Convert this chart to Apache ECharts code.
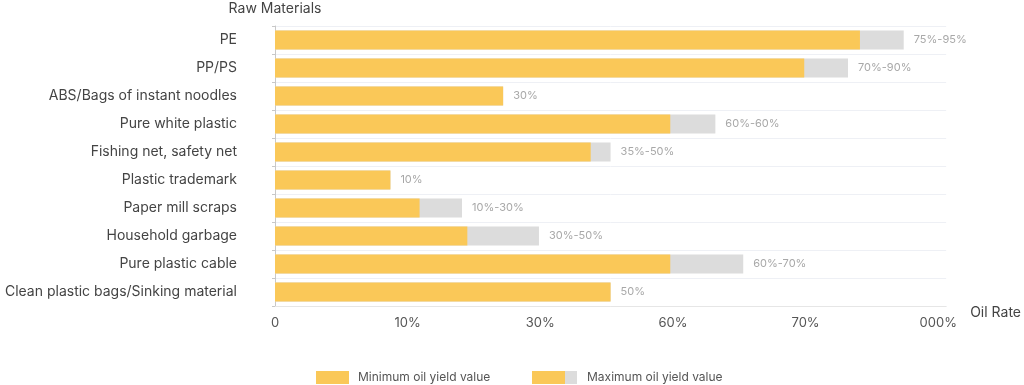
<!DOCTYPE html>
<html>
<head>
<meta charset="utf-8">
<script src="https://cdn.jsdelivr.net/npm/echarts@6/dist/echarts.min.js"></script>
<style>
  html, body { margin: 0; padding: 0; background: #fff; }
  #chart { width: 1024px; height: 385px; }
</style>
</head>
<body>
<div id="chart"></div>
<script>
// Categories (top to bottom)
const categories = [
  'PE',
  'PP/PS',
  'ABS/Bags of instant noodles',
  'Pure white plastic',
  'Fishing net, safety net',
  'Plastic trademark',
  'Paper mill scraps',
  'Household garbage',
  'Pure plastic cable',
  'Clean plastic bags/Sinking material'
];
// Bar lengths, in axis units (tick step = 100)
const minValues = [441, 399, 172, 298, 238, 87, 109, 145, 298, 253];
const maxValues = [474, 432, 172, 332, 253, 87, 141, 199, 353, 253];
// Text shown at the end of each bar
const rangeLabels = ['75%-95%', '70%-90%', '30%', '60%-60%', '35%-50%', '10%', '10%-30%', '30%-50%', '60%-70%', '50%'];
// X axis tick labels (as printed in the reference)
const xTickLabels = ['0', '10%', '30%', '60%', '70%', '000%'];

const YELLOW = '#fac858';
const GREY = '#dcdcdc';
const FONT = 'Inter';

const chart = echarts.init(document.getElementById('chart'));
chart.setOption({
  animation: false,
  textStyle: { fontFamily: FONT },
  grid: { left: 275, right: 74, top: 26, bottom: 79, containLabel: false },
  legend: [
    {
      data: ['Minimum oil yield value'],
      left: 316, top: 371, padding: 0,
      icon: 'rect', itemWidth: 33, itemHeight: 13,
      textStyle: { color: '#555', fontSize: 12, fontFamily: FONT, padding: [0, 0, 0, 4] }
    },
    {
      data: [{
        name: 'Maximum oil yield value',
        itemStyle: {
          color: new echarts.graphic.LinearGradient(0, 0, 1, 0, [
            { offset: 0, color: YELLOW },
            { offset: 0.73, color: YELLOW },
            { offset: 0.73, color: GREY },
            { offset: 1, color: GREY }
          ])
        }
      }],
      left: 532, top: 371, padding: 0,
      icon: 'rect', itemWidth: 45, itemHeight: 13,
      textStyle: { color: '#555', fontSize: 12, fontFamily: FONT, padding: [0, 0, 0, 5] }
    }
  ],
  xAxis: {
    type: 'value',
    min: 0, max: 506, interval: 100,
    name: 'Oil Rate',
    nameLocation: 'end',
    nameGap: 24,
    nameTextStyle: { color: '#444', fontSize: 14, fontFamily: FONT, verticalAlign: 'top', padding: [0, 0, 0, 0] },
    axisLine: { show: true, lineStyle: { color: '#e6e6e6' } },
    axisTick: { show: false },
    splitLine: { show: false },
    axisLabel: {
      color: '#555', fontSize: 13, fontFamily: FONT, margin: 11,
      formatter: function (v) {
        const i = Math.round(v / 100);
        return (Math.abs(v - i * 100) < 1e-6 && i < xTickLabels.length) ? xTickLabels[i] : '';
      }
    }
  },
  yAxis: {
    type: 'category',
    data: categories,
    inverse: true,
    name: 'Raw Materials',
    nameLocation: 'start',
    nameGap: 10,
    nameTextStyle: { color: '#444', fontSize: 14, fontFamily: FONT, align: 'center' },
    axisLine: { show: true, lineStyle: { color: '#c8c8c8' } },
    axisTick: { show: true, length: 3, lineStyle: { color: '#c8c8c8' } },
    splitLine: { show: true, lineStyle: { color: '#eef0f5' } },
    axisLabel: { color: '#444', fontSize: 14, fontFamily: FONT, margin: 38 }
  },
  series: [
    {
      name: 'Maximum oil yield value',
      type: 'bar',
      data: maxValues,
      barWidth: 19,
      barGap: '-100%',
      itemStyle: { color: GREY },
      label: {
        show: true, position: 'right', distance: 10,
        color: '#a8a8a8', fontSize: 11, fontFamily: FONT,
        formatter: function (p) { return rangeLabels[p.dataIndex]; }
      },
      z: 1
    },
    {
      name: 'Minimum oil yield value',
      type: 'bar',
      data: minValues,
      barWidth: 19,
      barGap: '-100%',
      itemStyle: { color: YELLOW },
      z: 2
    }
  ]
});
</script>
</body>
</html>
